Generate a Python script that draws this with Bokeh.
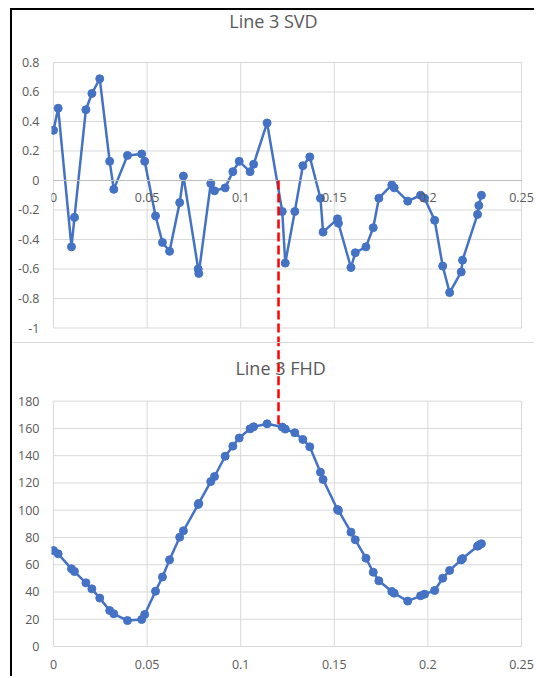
from bokeh.plotting import figure
from bokeh.models import Range1d, FixedTicker, CustomJSTickFormatter, Label, Spacer
from bokeh.layouts import column, row
from bokeh.embed import file_html
from bokeh.resources import INLINE

# ---------------- data ----------------
x_vals = [0.000, 0.0025, 0.0096, 0.0112, 0.0173, 0.0205, 0.0247, 0.0300, 0.0322, 0.0395,
          0.0471, 0.0487, 0.0545, 0.0582, 0.0620, 0.0674, 0.0694, 0.0773, 0.0776, 0.0840,
          0.0860, 0.0917, 0.0958, 0.0992, 0.1050, 0.1069, 0.1141, 0.1222, 0.1238, 0.1289,
          0.1332, 0.1369, 0.1426, 0.1440, 0.1517, 0.1522, 0.1589, 0.1612, 0.1669, 0.1708,
          0.1738, 0.1807, 0.1820, 0.1892, 0.1961, 0.1982, 0.2036, 0.2079, 0.2116, 0.2178,
          0.2185, 0.2265, 0.2272, 0.2286]
svd_vals = [0.34, 0.49, -0.45, -0.25, 0.48, 0.59, 0.69, 0.13, -0.06, 0.17,
            0.18, 0.13, -0.24, -0.42, -0.48, -0.15, 0.03, -0.60, -0.63, -0.02,
            -0.07, -0.05, 0.06, 0.13, 0.06, 0.11, 0.39, -0.21, -0.56, -0.21,
            0.10, 0.16, -0.12, -0.35, -0.26, -0.29, -0.59, -0.49, -0.45, -0.32,
            -0.12, -0.03, -0.05, -0.14, -0.10, -0.12, -0.27, -0.58, -0.76, -0.62,
            -0.54, -0.23, -0.17, -0.10]
fhd_vals = [70.4, 68.0, 57.0, 55.0, 46.7, 42.3, 35.5, 26.4, 24.0, 19.0,
            19.8, 23.5, 40.6, 51.0, 63.6, 80.2, 84.9, 104.2, 105.0, 121.0,
            124.7, 139.6, 147.0, 153.0, 159.7, 161.2, 163.4, 161.0, 159.5, 156.8,
            151.9, 146.5, 127.9, 122.5, 100.5, 99.8, 83.9, 78.3, 64.8, 54.5,
            48.2, 40.4, 39.1, 33.3, 37.2, 38.4, 41.1, 50.1, 55.8, 63.5,
            64.5, 73.6, 74.3, 75.4]
x_ticks = [0, 0.05, 0.1, 0.15, 0.2, 0.25]
svd_ticks = [-1, -0.8, -0.6, -0.4, -0.2, 0, 0.2, 0.4, 0.6, 0.8]
fhd_ticks = [0, 20, 40, 60, 80, 100, 120, 140, 160, 180]
marker_x = 0.1202
marker_fhd = 163
svd_title = "Line 3 SVD"
fhd_title = "Line 3 FHD"

BLUE = "#4472C4"
GRID = "#D9D9D9"
TXT = "#595959"
FONT = "Open Sans"

fmt = CustomJSTickFormatter(code="return String(Math.round(tick*1000)/1000);")


def style(p, yticks):
    p.outline_line_color = None
    p.background_fill_color = "white"
    p.border_fill_color = "white"
    p.xgrid.visible = False
    p.ygrid.visible = False
    p.yaxis.ticker = FixedTicker(ticks=yticks)
    p.yaxis.formatter = fmt
    p.xaxis.ticker = FixedTicker(ticks=x_ticks)
    p.xaxis.formatter = fmt
    p.xaxis.bounds = (x_ticks[0], x_ticks[-1])
    for ax in (p.xaxis, p.yaxis):
        ax.major_tick_line_color = None
        ax.minor_tick_line_color = None
        ax.major_tick_out = 0
        ax.major_tick_in = 0
        ax.major_label_text_font = FONT
        ax.major_label_text_font_size = "12.5px"
        ax.major_label_text_color = TXT
    p.yaxis.axis_line_color = None
    p.yaxis.major_label_standoff = 12
    p.xaxis.axis_line_color = "#BFBFBF"
    p.xaxis.major_label_standoff = 13
    n = len(x_ticks)
    m = len(yticks)
    # vertical gridlines
    p.segment(x0=x_ticks, y0=[yticks[0]] * n, x1=x_ticks, y1=[yticks[-1]] * n,
              line_color=GRID, line_width=1)
    # horizontal gridlines
    p.segment(x0=[x_ticks[0]] * m, y0=yticks, x1=[x_ticks[-1]] * m, y1=yticks,
              line_color=GRID, line_width=1)


XR = (-0.00107, 0.25694)

# ---------------- top chart ----------------
p1 = figure(width=522, height=332, x_range=Range1d(*XR),
            y_range=Range1d(-1.0983, 1.1525), output_backend="svg",
            toolbar_location=None, min_border_left=39, min_border_right=0,
            min_border_top=0, min_border_bottom=0)
style(p1, svd_ticks)
p1.xaxis.fixed_location = 0
p1.line(x_vals, svd_vals, line_color=BLUE, line_width=2.5)
p1.scatter(x_vals, svd_vals, size=8, fill_color=BLUE, line_color=BLUE)
p1.segment(x0=[marker_x], y0=[0], x1=[marker_x], y1=[-3], line_color="red",
           line_dash="9 4", line_width=2.5, level="overlay")
p1.add_layout(Label(x=0.1175, y=1.078, text=svd_title, text_align="center",
                    text_baseline="middle", text_font=FONT,
                    text_font_size="18px", text_color=TXT))

# ---------------- bottom chart ----------------
p2 = figure(width=522, height=333, x_range=Range1d(*XR),
            y_range=Range1d(0, 222.3), output_backend="svg",
            toolbar_location=None, min_border_left=39, min_border_right=0,
            min_border_top=0, min_border_bottom=30)
style(p2, fhd_ticks)
p2.xaxis.axis_line_color = GRID
p2.line(x_vals, fhd_vals, line_color=BLUE, line_width=2.5)
p2.scatter(x_vals, fhd_vals, size=8, fill_color=BLUE, line_color=BLUE)
p2.add_layout(Label(x=0.1213, y=204, text=fhd_title, text_align="center",
                    text_baseline="middle", text_font=FONT,
                    text_font_size="18px", text_color=TXT))
p2.segment(x0=[marker_x], y0=[marker_fhd], x1=[marker_x], y1=[400], line_color="red",
           line_dash="9 4", line_width=2.5, level="overlay")

sep = Spacer(width=522, height=1, styles={"background-color": GRID})
top_bar = Spacer(width=524, height=2, styles={"background-color": "black"})
left_bar = Spacer(width=2, height=666, styles={"background-color": "black"})

layout = column(Spacer(width=534, height=8),
                row(Spacer(width=10, height=668),
                    column(top_bar, row(left_bar, column(p1, sep, p2)))))

open("out.html", "w").write(file_html(layout, INLINE))
